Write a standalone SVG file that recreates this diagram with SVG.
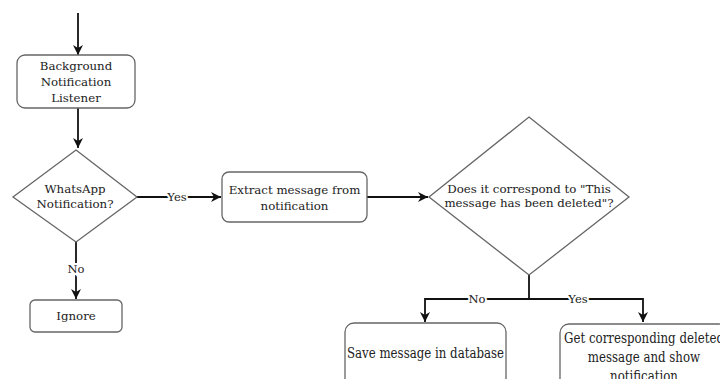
<svg xmlns="http://www.w3.org/2000/svg" width="720" height="379" viewBox="0 0 720 379">
<defs>
<marker id="ah" viewBox="0 0 10 10" refX="10" refY="5" markerWidth="10" markerHeight="10" markerUnits="userSpaceOnUse" orient="auto">
<path d="M0,0 L10,5 L0,10 L3,5 Z" fill="#111"/>
</marker>
</defs>
<style>
.n{fill:#fff;stroke:#666;stroke-width:1.3}
.t{font-family:"DejaVu Serif","Liberation Serif",serif;font-size:11.8px;fill:#222;text-anchor:middle}
.e{fill:none;stroke:#111;stroke-width:1.8}
.l{font-family:"DejaVu Serif","Liberation Serif",serif;font-size:11.5px;fill:#222;text-anchor:middle;stroke:#fff;stroke-width:4;paint-order:stroke}
</style>
<rect width="720" height="379" fill="#fff"/>
<g id="connectors">
<path class="e" d="M78,13 V55" marker-end="url(#ah)"/>
<path class="e" d="M78,108 V148" marker-end="url(#ah)"/>
<path class="e" d="M137,197 H221" marker-end="url(#ah)"/>
<path class="e" d="M76,242 V299" marker-end="url(#ah)"/>
<path class="e" d="M367,197 H428" marker-end="url(#ah)"/>
<path class="e" d="M529,275 V299 H425 V322" marker-end="url(#ah)"/>
<path class="e" d="M529,299 H643 V322" marker-end="url(#ah)"/>
<text class="l" x="177" y="201">Yes</text>
<text class="l" x="76" y="273">No</text>
<text class="l" x="477" y="303">No</text>
<text class="l" x="578" y="303">Yes</text>
</g>
<g id="listener">
<rect class="n" x="17" y="55" width="118" height="53" rx="8"/>
<text class="t" x="76" y="70">Background</text>
<text class="t" x="76" y="86">Notification</text>
<text class="t" x="76" y="102">Listener</text>
</g>
<g id="whatsapp">
<polygon class="n" points="76,150 137,197 76,242 13,197"/>
<text class="t" x="75" y="193">WhatsApp</text>
<text class="t" x="75" y="208">Notification?</text>
</g>
<g id="ignore">
<rect class="n" x="30" y="300" width="92" height="32" rx="5"/>
<text class="t" x="76" y="320">Ignore</text>
</g>
<g id="extract">
<rect class="n" x="222" y="172" width="145" height="50" rx="7"/>
<text class="t" x="294.5" y="194">Extract message from</text>
<text class="t" x="294.5" y="210">notification</text>
</g>
<g id="deleted-check">
<polygon class="n" points="529,117 629,197 529,275 429,197"/>
<text class="t" x="529" y="193">Does it correspond to "This</text>
<text class="t" x="529" y="207">message has been deleted"?</text>
</g>
<g id="save">
<rect class="n" x="345" y="323" width="161" height="70" rx="9"/>
<text class="t" transform="translate(425.5,357.5) scale(1,1.3)" x="0" y="0">Save message in database</text>
</g>
<g id="show">
<rect class="n" x="560" y="324" width="168" height="70" rx="9"/>
<text class="t" transform="translate(644,343) scale(1,1.3)" x="0" y="0">Get corresponding deleted</text>
<text class="t" transform="translate(644,362) scale(1,1.3)" x="0" y="0">message and show</text>
<text class="t" transform="translate(644,381) scale(1,1.3)" x="0" y="0">notification</text>
</g>
</svg>
